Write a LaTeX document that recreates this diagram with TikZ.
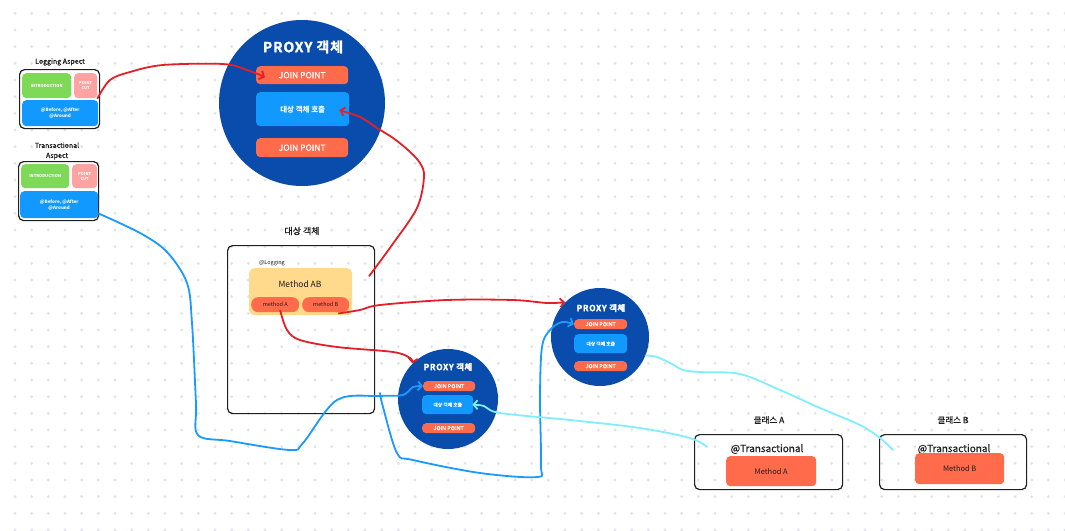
\documentclass[tikz,border=0pt]{standalone}
\usepackage{fontspec}
\setmainfont{Noto Sans CJK KR}
\newfontfamily\med[FakeBold=0.6]{Noto Sans CJK KR}
\newfontfamily\hvy[FakeBold=1.5,LetterSpace=6]{Noto Sans CJK KR Bold}
\usetikzlibrary{arrows.meta,calc}
\definecolor{dotc}{HTML}{E2E4EA}
\definecolor{pblue}{HTML}{0A4CAB}
\definecolor{lblue}{HTML}{1199FF}
\definecolor{oran}{HTML}{FF6B4B}
\definecolor{grn}{HTML}{7ED957}
\definecolor{pink}{HTML}{FFA2A2}
\definecolor{yel}{HTML}{FFD98C}
\definecolor{ink}{HTML}{1E1E1E}
\definecolor{rline}{HTML}{E3202A}
\definecolor{bline}{HTML}{1A9AFF}
\definecolor{cline}{HTML}{80EEFF}
\begin{document}
\begin{tikzpicture}[x=1pt,y=-1pt,
  bx/.style={rounded corners=4pt,inner sep=0pt,anchor=north west,align=center},
  frame/.style={draw=ink,line width=1.2pt,rounded corners=5pt,inner sep=0pt,anchor=north west},
  ttl/.style={text=ink,inner sep=0pt,align=center},
  wt/.style={text=white},
  pc/.style={circle,fill=pblue,inner sep=0pt},
  red/.style={draw=rline,line width=1.8pt,line cap=round,line join=round},
  blu/.style={draw=bline,line width=1.8pt,line cap=round,line join=round},
  cya/.style={draw=cline,line width=1.8pt,line cap=round,line join=round},
  tip/.style={-{Straight Barb[length=4pt,width=9pt]}}
]
\useasboundingbox (0,0) rectangle (1065,530);
\fill[white] (0,0) rectangle (1065,530);
% dot grid
\foreach \i in {0,...,63}{
  \foreach \j in {0,...,31}{
    \fill[dotc] ({15+\i*16.667},{13.33+\j*16.667}) +(-1.6,0) -- +(0,-1.6) -- +(1.6,0) -- +(0,1.6) -- cycle;
  }
}
% Logging Aspect
\node[ttl,font=\med\fontsize{7}{8}\selectfont] (lat) at (60,62) {Logging Aspect};
\node[frame,fill=white,minimum width=80pt,minimum height=59pt] (la) at (19,69) {};
\node[bx,fill=grn,wt,minimum width=49pt,minimum height=25pt,font=\bfseries\fontsize{4}{5}\selectfont] (lai) at (22,73) {INTRODUCTION};
\node[bx,fill=pink,wt,minimum width=23pt,minimum height=25pt,font=\bfseries\fontsize{4}{5}\selectfont] (lap) at (74,73) {POINT\\CUT};
\node[bx,fill=lblue,wt,minimum width=76pt,minimum height=26pt,font=\bfseries\fontsize{4.5}{6}\selectfont] (lab) at (22,100) {@Before, @After\\@Around};
% Transactional Aspect
\node[ttl,font=\med\fontsize{7}{10}\selectfont] (tat) at (57,151) {Transactional\\Aspect};
\node[frame,fill=white,minimum width=80pt,minimum height=59pt] (ta) at (18,161) {};
\node[bx,fill=grn,wt,minimum width=48pt,minimum height=24pt,font=\bfseries\fontsize{4}{5}\selectfont] (tai) at (21,164) {INTRODUCTION};
\node[bx,fill=pink,wt,minimum width=25pt,minimum height=24pt,font=\bfseries\fontsize{4}{5}\selectfont] (tap) at (72,164) {POINT\\CUT};
\node[bx,fill=lblue,wt,minimum width=78pt,minimum height=27pt,font=\bfseries\fontsize{4.5}{6}\selectfont] (tab) at (20,191) {@Before, @After\\@Around};
% Big proxy
\node[pc,minimum size=166pt] (p0) at (302,103) {};
\node[wt,inner sep=0pt,font=\hvy\fontsize{14}{15}\selectfont] (p0t) at (303,47) {PROXY 객체};
\node[bx,fill=oran,wt,minimum width=92pt,minimum height=18pt,font=\med\fontsize{8.5}{9}\selectfont] (p0j1) at (256,66) {JOIN POINT};
\node[bx,fill=lblue,wt,minimum width=93pt,minimum height=34pt,font=\bfseries\fontsize{7.5}{8}\selectfont] (p0c) at (256,92) {대상 객체 호출};
\node[bx,fill=oran,wt,minimum width=92pt,minimum height=19pt,font=\med\fontsize{8.5}{9}\selectfont] (p0j2) at (256,138) {JOIN POINT};
% Target object
\node[ttl,font=\med\fontsize{9}{10}\selectfont] (tgt) at (302,231) {대상 객체};
\node[frame,minimum width=147pt,minimum height=168pt] (tb) at (227,245) {};
\node[ttl,font=\fontsize{5.5}{6}\selectfont] (lg) at (272,263) {@Logging};
\node[bx,fill=yel,rounded corners=5pt,minimum width=103pt,minimum height=47pt] (yb) at (249,268) {};
\node[ttl,font=\fontsize{8.5}{9}\selectfont] (mab) at (300,284) {Method AB};
\node[bx,fill=oran,rounded corners=7pt,text=ink,minimum width=48pt,minimum height=15pt,font=\fontsize{5.5}{6}\selectfont] (ma) at (251,297) {method A};
\node[bx,fill=oran,rounded corners=7pt,text=ink,minimum width=47pt,minimum height=15pt,font=\fontsize{5.5}{6}\selectfont] (mb) at (302,297) {method B};
% Proxy 1
\node[pc,minimum size=100pt] (p1) at (448,399) {};
\node[wt,inner sep=0pt,font=\hvy\fontsize{8.5}{9}\selectfont] (p1t) at (448,367) {PROXY 객체};
\node[bx,fill=oran,wt,rounded corners=4pt,minimum width=52pt,minimum height=10pt,font=\med\fontsize{5.5}{6}\selectfont] (p1j1) at (423,381) {JOIN POINT};
\node[bx,fill=lblue,wt,minimum width=51pt,minimum height=19pt,font=\med\fontsize{4.8}{5}\selectfont] (p1c) at (422,395) {대상 객체 호출};
\node[bx,fill=oran,wt,rounded corners=4pt,minimum width=53pt,minimum height=10pt,font=\med\fontsize{5.5}{6}\selectfont] (p1j2) at (422,423) {JOIN POINT};
% Proxy 2
\node[pc,minimum size=98pt] (p2) at (600,337) {};
\node[wt,inner sep=0pt,font=\hvy\fontsize{8.5}{9}\selectfont] (p2t) at (601,308) {PROXY 객체};
\node[bx,fill=oran,wt,rounded corners=4pt,minimum width=53pt,minimum height=10pt,font=\med\fontsize{5.5}{6}\selectfont] (p2j1) at (574,319) {JOIN POINT};
\node[bx,fill=lblue,wt,minimum width=53pt,minimum height=19pt,font=\med\fontsize{4.8}{5}\selectfont] (p2c) at (574,334) {대상 객체 호출};
\node[bx,fill=oran,wt,rounded corners=4pt,minimum width=53pt,minimum height=10pt,font=\med\fontsize{5.5}{6}\selectfont] (p2j2) at (574,361) {JOIN POINT};
% Class A
\node[ttl,font=\med\fontsize{8.5}{9}\selectfont] (cat) at (769,420) {클래스 A};
\node[frame,minimum width=148pt,minimum height=55pt] (ca) at (694,434) {};
\node[ttl,font=\med\fontsize{10}{11}\selectfont] (cta) at (767,449) {@Transactional};
\node[bx,fill=oran,text=ink,minimum width=90pt,minimum height=30pt,font=\fontsize{7.5}{8}\selectfont] (cma) at (726,456) {Method A};
% Class B
\node[ttl,font=\med\fontsize{8.5}{9}\selectfont] (cbt) at (953,420) {클래스 B};
\node[frame,minimum width=147pt,minimum height=55pt] (cb) at (879,434) {};
\node[ttl,font=\med\fontsize{10}{11}\selectfont] (ctb) at (954,449) {@Transactional};
\node[bx,fill=oran,text=ink,minimum width=89pt,minimum height=31pt,font=\fontsize{7.5}{8}\selectfont] (cmb) at (915,453) {Method B};
% free ends
\coordinate (b2s) at (380,393);
\coordinate (cyb) at (893,450);
\coordinate (cya) at (707,447);
% red connectors
\draw[red,tip] plot[smooth,tension=0.55] coordinates {(lap.south east) (110,80) (130,72) (163,65) (223,64) (247,70) ($(p0j1.west)+(9,2)$)};
\draw[red,tip] plot[smooth,tension=0.55] coordinates {($(tb.north east)+(-6,31)$) (392,245) (417,208) (424,177) (420,163) (408,150) (393,138) (377,128) (360,117) ($(p0c.east)+(-10,1)$)};
\draw[red,tip] plot[smooth,tension=0.55] coordinates {($(mb.south)+(13,1)$) (360,310) (380,305) (447,300) (513,300) (547,303) (p2.north west)};
\draw[red,tip] plot[smooth,tension=0.55] coordinates {($(ma.south)+(5,-2)$) (287,330) (300,340) (337,347) (393,352) (410,358) (p1.north west)};
% blue connectors
\draw[blu,tip] plot[smooth,tension=0.55] coordinates {($(tab.south east)+(0,-5)$) (140,233) (167,252) (187,283) (192,323) (196,403) (198,435) (230,441) (290,450) (303,443) (337,400) (380,396) (403,395) (413,387) (p1j1.west)};
\draw[blu,tip] plot[smooth,tension=0.55] coordinates {(b2s) (383,407) (397,453) (413,460) (480,473) (537,477) (541,465) (540,397) (542,347) (550,330) (562,322) (p2j1.west)};
% cyan connectors
\draw[cya] plot[smooth,tension=0.55] coordinates {(p2.-22) (657,357) (672,364) (683,370) (700,372) (740,374) (780,390) (820,408) (860,425) (880,438) (cyb)};
\draw[cya,tip] plot[smooth,tension=0.55] coordinates {(cya) (690,438) (640,428) (570,420) (500,413) (484,406) ($(p1c.east)+(-1,0)$)};
\end{tikzpicture}
\end{document}
